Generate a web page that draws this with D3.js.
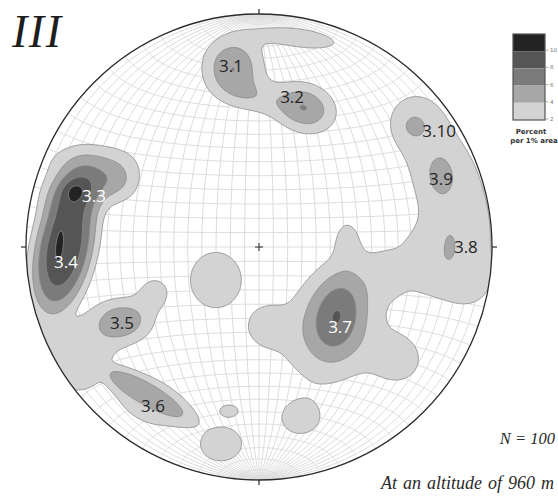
<!DOCTYPE html>
<html>
<head>
<meta charset="utf-8">
<script src="https://cdn.jsdelivr.net/npm/d3@7"></script>
<style>
  html, body { margin: 0; padding: 0; background: #ffffff; }
  svg { display: block; }
</style>
</head>
<body>
<svg id="chart" width="558" height="497"></svg>
<script>
// ---- Data -------------------------------------------------------------
// Contour levels, percent per 1% area
const levels = [2, 4, 6, 8, 10];
const levelFills = ["#d3d3d3", "#a7a7a7", "#7b7b7b", "#555555", "#232323"];
const legendLabels = ["10", "8", "6", "4", "2"];

// Pole concentrations on the lower-hemisphere net (unit radius, x east, y north).
// Each entry: [x, y, peak %, spread along axis, spread across axis, axis angle°, kernel flatness]
const sets33and34 = [
  [-0.837, -0.004, 9.4,  0.240, 0.103,  78, 1.5],
  [-0.751,  0.266, 4.4,  0.120, 0.070,  15],
  [-0.790,  0.240, 1.3,  0.030, 0.026,   0],
  [-0.858,  0.009, 1.2,  0.064, 0.015,  85],
  [-0.597,  0.275, 2.5,  0.069, 0.069,   0],
  [-0.734,  0.382, 2.3,  0.150, 0.060,   0]
];
const set35 = [
  [-0.588, -0.318, 5.5,  0.094, 0.069,   0],
  [-0.446, -0.193, 2.8,  0.056, 0.056,   0],
  [-0.717, -0.476, 2.4,  0.086, 0.086,   0],
  [-0.876, -0.356, 2.2,  0.094, 0.094,   0],
  [-0.790, -0.549, 2.1,  0.077, 0.077,   0]
];
const set36 = [
  [-0.502, -0.618, 3.4,  0.200, 0.042, -30, 1.5],
  [-0.468, -0.665, 2.4,  0.200, 0.120, -25, 1.5]
];
const sets31and32 = [
  [-0.112,  0.777, 5.8,  0.090, 0.090,   0],
  [ 0.176,  0.897, 3.2,  0.150, 0.039,  -8],
  [ 0.197,  0.597, 5.85, 0.094, 0.073, -20],
  [-0.030,  0.644, 2.5,  0.103, 0.052, -15]
];
const sets38to310 = [
  [ 0.670,  0.554, 2.4,  0.129, 0.129,   0],
  [ 0.798,  0.322, 2.4,  0.140, 0.140,   0],
  [ 0.863,  0.082, 2.4,  0.140, 0.140,   0],
  [ 0.897, -0.163, 2.2,  0.120, 0.120,   0],
  [ 0.691, -0.077, 2.6,  0.100, 0.100,   0],
  [ 0.665,  0.519, 1.8,  0.043, 0.043,   0],
  [ 0.777,  0.309, 1.8,  0.064, 0.043,  90],
  [ 0.820,  0.009, 1.1,  0.034, 0.015,  90]
];
const set37 = [
  [ 0.339, -0.279, 5.95, 0.146, 0.090,  80],
  [ 0.262, -0.378, 2.6,  0.215, 0.172,   0],
  [ 0.378,  0.039, 2.3,  0.069, 0.043,  90],
  [ 0.026, -0.335, 2.2,  0.060, 0.060,   0],
  [ 0.176, -0.742, 2.5,  0.094, 0.077,   0],
  [ 0.605, -0.485, 2.4,  0.094, 0.094,   0],
  [ 0.584, -0.099, 2.6,  0.100, 0.100,   0]
];
const scatteredPatches = [
  [-0.185, -0.142, 3.5,  0.112, 0.103,  90],
  [-0.129, -0.704, 2.3,  0.060, 0.040,   0, 1.5],
  [-0.163, -0.845, 2.5,  0.115, 0.095,   0, 1.5]
];

// Joint sets and where their names sit on the net
const setNames = ["3.1", "3.2", "3.3", "3.4", "3.5", "3.6", "3.7", "3.8", "3.9", "3.10"];
const setX     = [-0.120, 0.142, -0.708, -0.828, -0.588, -0.455, 0.348, 0.888, 0.781, 0.773];
const setY     = [ 0.777, 0.648,  0.219, -0.064, -0.322, -0.682, -0.343, 0.004, 0.292, 0.498];
const setOnDark = [false, false, true, true, false, false, true, false, false, false];

const panelTitle = "III";
const sampleSize = 100;
const altitude = 960;

// ---- Layout -----------------------------------------------------------
const cx = 259, cy = 247, R = 233;

const svg = d3.select("#chart");

const xNet = d3.scaleLinear().domain([-1, 1]).range([cx - R, cx + R]);
const yNet = d3.scaleLinear().domain([-1, 1]).range([cy + R, cy - R]);

// Equal-area (Schmidt) net
const projection = d3.geoAzimuthalEqualArea()
  .scale(R / Math.SQRT2)
  .translate([cx, cy])
  .clipAngle(90)
  .precision(0.2);
const geoPath = d3.geoPath(projection);

svg.append("defs").append("clipPath").attr("id", "net-clip")
  .append("circle").attr("cx", cx).attr("cy", cy).attr("r", R);

svg.append("circle")
  .attr("cx", cx).attr("cy", cy).attr("r", R)
  .attr("fill", "#ffffff");

// Graticule of great and small circles every 5 degrees
const graticule = d3.geoGraticule()
  .extent([[-90, -90], [90, 90]])
  .step([5, 5])
  .precision(1);

svg.append("g").attr("clip-path", "url(#net-clip)")
  .append("path")
  .datum(graticule())
  .attr("d", geoPath)
  .attr("fill", "none")
  .attr("stroke", "#dcdcdc")
  .attr("stroke-width", 1);

// ---- Density grid and contours -----------------------------------------
// Kernels of one set add up; different sets are merged with a soft maximum.
const groups = [sets33and34, set35, set36, sets31and32, sets38to310, set37,
  ...scatteredPatches.map(p => [p])];
const mergePower = 4;

const span = 1.05;
const n = 320;
const step = (2 * span) / (n - 1);
const kernels = groups.map(g => g.map(([x, y, a, sa, sb, ang, flat = 1]) => {
  const t = ang * Math.PI / 180;
  return { x, y, a, sa, sb, flat, c: Math.cos(t), s: Math.sin(t) };
}));
const grid = new Float64Array(n * n);
for (let j = 0; j < n; ++j) {
  const uy = span - j * step;
  for (let i = 0; i < n; ++i) {
    const ux = -span + i * step;
    let total = 0;
    for (const g of kernels) {
      let v = 0;
      for (const k of g) {
        const dx = ux - k.x, dy = uy - k.y;
        const p = (dx * k.c + dy * k.s) / k.sa;
        const q = (-dx * k.s + dy * k.c) / k.sb;
        const d2 = p * p + q * q;
        v += k.a * Math.exp(-0.5 * (k.flat === 1 ? d2 : Math.pow(d2, k.flat)));
      }
      total += Math.pow(v, mergePower);
    }
    grid[j * n + i] = Math.pow(total, 1 / mergePower);
  }
}

const contours = d3.contours().size([n, n]).thresholds(levels)(grid);
const gridPath = d3.geoPath(
  d3.geoIdentity().scale(step * R)
    .translate([cx - span * R - 0.5 * step * R, cy - span * R - 0.5 * step * R])
);

svg.append("g").attr("clip-path", "url(#net-clip)")
  .selectAll("path")
  .data(contours)
  .join("path")
  .attr("d", gridPath)
  .attr("fill", (d, i) => levelFills[i])
  .attr("stroke", "#8a8a8a")
  .attr("stroke-width", 0.8)
  .attr("stroke-linejoin", "round");

// Primitive circle outline, cardinal ticks, centre cross
svg.append("circle")
  .attr("cx", cx).attr("cy", cy).attr("r", R)
  .attr("fill", "none").attr("stroke", "#2b2b2b").attr("stroke-width", 1.3);

const ticks = svg.append("g").attr("stroke", "#2b2b2b").attr("stroke-width", 1.2);
ticks.append("line").attr("x1", cx).attr("x2", cx).attr("y1", cy - R).attr("y2", cy - R - 5);
ticks.append("line").attr("x1", cx).attr("x2", cx).attr("y1", cy + R).attr("y2", cy + R + 5);
ticks.append("line").attr("x1", cx - R).attr("x2", cx - R - 5).attr("y1", cy).attr("y2", cy);
ticks.append("line").attr("x1", cx + R).attr("x2", cx + R + 5).attr("y1", cy).attr("y2", cy);
ticks.append("line").attr("x1", cx - 4).attr("x2", cx + 4).attr("y1", cy).attr("y2", cy).attr("stroke-width", 1);
ticks.append("line").attr("x1", cx).attr("x2", cx).attr("y1", cy - 4).attr("y2", cy + 4).attr("stroke-width", 1);

// Set labels
svg.append("g")
  .selectAll("text")
  .data(setNames)
  .join("text")
  .attr("x", (d, i) => xNet(setX[i]))
  .attr("y", (d, i) => yNet(setY[i]))
  .attr("text-anchor", "middle")
  .attr("dominant-baseline", "central")
  .attr("font-family", "'Open Sans', 'DejaVu Sans', sans-serif")
  .attr("font-size", 17)
  .attr("fill", (d, i) => setOnDark[i] ? "#ffffff" : "#242424")
  .text(d => d);

// Panel title
svg.append("text")
  .attr("x", 12).attr("y", 47)
  .attr("font-family", "'Liberation Serif', 'DejaVu Serif', serif")
  .attr("font-style", "italic")
  .attr("font-size", 46)
  .attr("letter-spacing", 1.5)
  .attr("fill", "#1e1e1e")
  .text(panelTitle);

// ---- Legend ----------------------------------------------------------
const legX = 513, legY = 34, legW = 32, legH = 86;
const bandH = legH / levels.length;
const legend = svg.append("g");
const legendFills = levelFills.slice().reverse();
legend.selectAll("rect.band")
  .data(legendLabels)
  .join("rect")
  .attr("class", "band")
  .attr("x", legX).attr("y", (d, i) => legY + i * bandH)
  .attr("width", legW).attr("height", bandH)
  .attr("fill", (d, i) => legendFills[i]);
legend.append("rect")
  .attr("x", legX).attr("y", legY).attr("width", legW).attr("height", legH)
  .attr("fill", "none").attr("stroke", "#555555").attr("stroke-width", 1.2);
legend.selectAll("line.tick")
  .data(legendLabels)
  .join("line")
  .attr("class", "tick")
  .attr("x1", legX + legW + 1).attr("x2", legX + legW + 3.5)
  .attr("y1", (d, i) => legY + (i + 1) * bandH - 1)
  .attr("y2", (d, i) => legY + (i + 1) * bandH - 1)
  .attr("stroke", "#999999").attr("stroke-width", 0.8);
legend.selectAll("text.tick")
  .data(legendLabels)
  .join("text")
  .attr("class", "tick")
  .attr("x", legX + legW + 5)
  .attr("y", (d, i) => legY + (i + 1) * bandH - 1)
  .attr("dominant-baseline", "central")
  .attr("font-family", "'DejaVu Sans', sans-serif")
  .attr("font-size", 5.5)
  .attr("fill", "#777777")
  .text(d => d);
legend.append("text")
  .attr("x", 531).attr("y", 134)
  .attr("text-anchor", "middle")
  .attr("font-family", "'DejaVu Sans', sans-serif")
  .attr("font-weight", "bold")
  .attr("font-size", 7)
  .attr("fill", "#333333")
  .text("Percent");
legend.append("text")
  .attr("x", 534).attr("y", 143)
  .attr("text-anchor", "middle")
  .attr("font-family", "'DejaVu Sans', sans-serif")
  .attr("font-weight", "bold")
  .attr("font-size", 7)
  .attr("fill", "#333333")
  .text("per 1% area");

// ---- Notes ------------------------------------------------------------
svg.append("text")
  .attr("x", 555).attr("y", 444)
  .attr("text-anchor", "end")
  .attr("font-family", "'Liberation Serif', 'DejaVu Serif', serif")
  .attr("font-style", "italic")
  .attr("font-size", 16.5)
  .attr("fill", "#2a2a2a")
  .text(`N = ${sampleSize}`);
svg.append("text")
  .attr("x", 554).attr("y", 489)
  .attr("text-anchor", "end")
  .attr("font-family", "'Liberation Serif', 'DejaVu Serif', serif")
  .attr("font-style", "italic")
  .attr("font-size", 18)
  .attr("word-spacing", 1.5)
  .attr("fill", "#2a2a2a")
  .text(`At an altitude of ${altitude} m`);
</script>
</body>
</html>
